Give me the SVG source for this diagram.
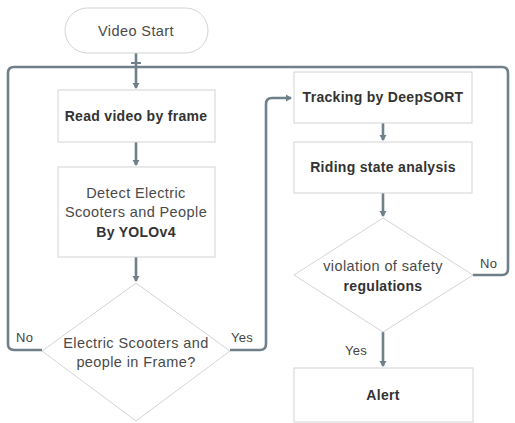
<svg xmlns="http://www.w3.org/2000/svg" width="515" height="423" viewBox="0 0 515 423">
<defs>
<style>
.box{fill:#fff;stroke:#d4d4d4;stroke-width:1}
.t{font-family:"Liberation Sans",Arial,sans-serif;font-size:14.5px;fill:#4a4a4a;text-anchor:middle;letter-spacing:0.4px}
.b{font-weight:bold;font-size:14px;fill:#333;letter-spacing:0.3px}
.lbl{font-family:"Liberation Sans",Arial,sans-serif;font-size:13px;fill:#444;letter-spacing:0.3px}
.c{fill:none;stroke:#6f808b;stroke-width:2.6}
</style>
<marker id="ah" markerWidth="8" markerHeight="8" refX="5" refY="4" orient="auto" markerUnits="userSpaceOnUse">
<path d="M0,0.5 L6,4 L0,7.5 z" fill="#6f808b"/>
</marker>
</defs>
<rect width="515" height="423" fill="#fff"/>
<g id="connectors">
<line class="c" x1="136" y1="53" x2="136" y2="88" marker-end="url(#ah)"/>
<line x1="131" y1="63" x2="141" y2="63" stroke="#6f808b" stroke-width="2"/>
<path class="c" d="M42,350 H14 Q8,350 8,344 V73 Q8,67 14,67 H502 Q508,67 508,73 V269 Q508,275 502,275 H473"/>
<line class="c" x1="136" y1="142" x2="136" y2="165" marker-end="url(#ah)"/>
<line class="c" x1="136" y1="257" x2="136" y2="281" marker-end="url(#ah)"/>
<path class="c" d="M230,350 H260 Q266,350 266,344 V104 Q266,98 272,98 H291" marker-end="url(#ah)"/>
<line class="c" x1="383" y1="123" x2="383" y2="140" marker-end="url(#ah)"/>
<line class="c" x1="383" y1="193" x2="383" y2="216" marker-end="url(#ah)"/>
<line class="c" x1="383" y1="332" x2="383" y2="366" marker-end="url(#ah)"/>
</g>
<g id="start">
<rect class="box" x="65" y="8" width="143" height="45" rx="22.5"/>
<text class="t" x="136" y="36">Video Start</text>
</g>
<g id="read">
<rect class="box" x="58" y="90" width="157" height="52"/>
<text class="t b" x="136" y="121">Read video by frame</text>
</g>
<g id="detect">
<rect class="box" x="58" y="167" width="157" height="90"/>
<text class="t" x="136" y="198">Detect Electric</text>
<text class="t" x="136" y="217">Scooters and People</text>
<text class="t b" x="136" y="237">By YOLOv4</text>
</g>
<g id="check">
<polygon class="box" points="136,283 230,351 136,421 42,351"/>
<text class="t" x="136" y="348">Electric Scooters and</text>
<text class="t" x="136" y="367">people in Frame?</text>
<text class="lbl" x="16" y="342">No</text>
<text class="lbl" x="231" y="342">Yes</text>
</g>
<g id="tracking">
<rect class="box" x="294" y="72" width="178" height="51"/>
<text class="t b" x="383" y="102">Tracking by DeepSORT</text>
</g>
<g id="riding">
<rect class="box" x="294" y="142" width="178" height="51"/>
<text class="t b" x="383" y="172">Riding state analysis</text>
</g>
<g id="violation">
<polygon class="box" points="383,218 473,275 383,332 294,275"/>
<text class="t" x="383" y="271">violation of safety</text>
<text class="t b" x="383" y="291">regulations</text>
<text class="lbl" x="480" y="268">No</text>
<text class="lbl" x="345" y="355">Yes</text>
</g>
<g id="alert">
<rect class="box" x="294" y="368" width="179" height="54"/>
<text class="t b" x="383" y="400">Alert</text>
</g>
</svg>
